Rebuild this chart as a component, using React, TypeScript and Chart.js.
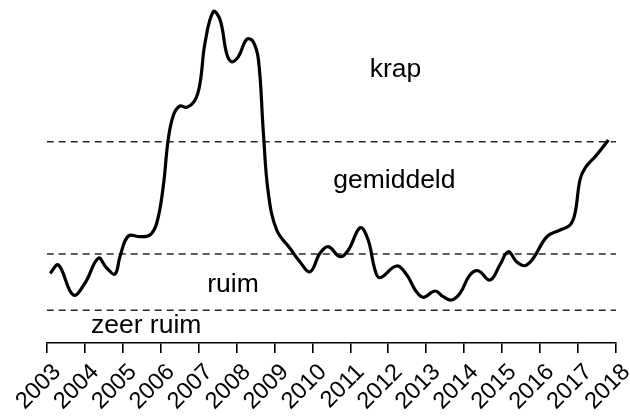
import React, { useEffect, useRef } from "react";
import { Chart, registerables } from "chart.js";

Chart.register(...registerables);

// Time (fractional years) and tightness index (arbitrary units, 0 = axis)
const years = [
  2003.09, 2003.31, 2003.70, 2004.01, 2004.36, 2004.58, 2004.80, 2004.93,
  2005.15, 2005.46, 2005.72, 2005.90, 2006.07, 2006.20, 2006.34, 2006.51,
  2006.69, 2006.91, 2007.04, 2007.17, 2007.39, 2007.57, 2007.74, 2007.87,
  2008.05, 2008.27, 2008.44, 2008.58, 2008.71, 2008.84, 2009.06, 2009.41,
  2009.67, 2009.94, 2010.20, 2010.42, 2010.73, 2010.95, 2011.26, 2011.47,
  2011.65, 2011.78, 2012.22, 2012.49, 2012.71, 2012.92, 2013.23, 2013.45,
  2013.67, 2013.89, 2014.15, 2014.37, 2014.68, 2014.94, 2015.16, 2015.38,
  2015.60, 2015.82, 2016.18, 2016.53, 2016.79, 2016.92, 2017.05, 2017.18,
  2017.49, 2017.80,
];
const index = [
  69.7, 78, 48, 60, 84.7, 75, 69, 86.3,
  107, 106.3, 108, 120, 156.3, 203, 228, 237,
  235.7, 243, 259.7, 299.7, 331.3, 323, 289.7, 281.3,
  286.3, 303.7, 301.3, 283, 209.7, 149.7, 113, 94.7,
  81.3, 71.3, 89.7, 96.3, 86.3, 93, 115.3, 103,
  73, 65.3, 77, 68, 53, 45.7, 52, 46.3,
  43, 49.7, 68, 72.3, 63, 78, 91.3, 81.3,
  77.3, 84.7, 106.3, 113, 118, 129.7, 163, 174.7,
  188, 203,
];

// Tick labels on the time axis
const yearTicks = [
  2003, 2004, 2005, 2006, 2007, 2008, 2009, 2010,
  2011, 2012, 2013, 2014, 2015, 2016, 2017, 2018,
];

// Thresholds between the zones
const thresholds = [201.3, 89, 32.7];

// Zone labels with their anchor (year, index at baseline)
const zoneLabels = ["krap", "gemiddeld", "ruim", "zeer ruim"];
const zoneLabelX = [2012.19, 2012.16, 2007.91, 2005.62];
const zoneLabelY = [266.3, 154.7, 51.3, 9.7];

const X_MIN = 2003;
const X_MAX = 2018;
const Y_MIN = 0;
const Y_MAX = 335;

const FONT = "'Liberation Sans', Arial, Helvetica, sans-serif";

export default function App() {
  const ref = useRef<HTMLCanvasElement | null>(null);

  useEffect(() => {
    if (!ref.current) return;

    const labelPlugin = {
      id: "zoneLabels",
      afterDatasetsDraw(chart: any) {
        const { ctx, scales, chartArea } = chart;
        ctx.save();
        ctx.fillStyle = "#000";
        ctx.font = `26.5px ${FONT}`;
        ctx.textAlign = "center";
        ctx.textBaseline = "alphabetic";
        zoneLabels.forEach((t, i) => {
          ctx.fillText(
            t,
            scales.x.getPixelForValue(zoneLabelX[i]),
            scales.y.getPixelForValue(zoneLabelY[i])
          );
        });
        ctx.restore();

        // rotated year labels (R-style, 45 degrees)
        ctx.save();
        ctx.fillStyle = "#000";
        ctx.font = `23.5px ${FONT}`;
        ctx.textAlign = "right";
        ctx.textBaseline = "alphabetic";
        yearTicks.forEach((yr) => {
          const px = scales.x.getPixelForValue(yr);
          ctx.save();
          ctx.translate(px + 15, chartArea.bottom + 30);
          ctx.rotate(-Math.PI / 4);
          ctx.fillText(String(yr), 0, 0);
          ctx.restore();
        });
        ctx.restore();
      },
    };

    const datasets: any[] = [
      {
        data: years.map((x, i) => ({ x, y: index[i] })),
        borderColor: "#000",
        borderWidth: 3.2,
        pointRadius: 0,
        tension: 0.4,
        fill: false,
        clip: false,
      },
      ...thresholds.map((t) => ({
        data: [
          { x: X_MIN, y: t },
          { x: X_MAX, y: t },
        ],
        borderColor: "#2a2a2a",
        borderWidth: 1.6,
        borderDash: [7, 5],
        pointRadius: 0,
        fill: false,
      })),
    ];

    const chart = new Chart(ref.current, {
      type: "line",
      data: { datasets },
      plugins: [labelPlugin],
      options: {
        animation: false,
        responsive: false,
        maintainAspectRatio: false,
        layout: { padding: { top: 8, left: 46.7, right: 14, bottom: 0 } },
        plugins: { legend: { display: false }, tooltip: { enabled: false } },
        scales: {
          x: {
            type: "linear",
            min: X_MIN,
            max: X_MAX,
            afterFit: (scale: any) => {
              scale.height = 74;
            },
            afterBuildTicks: (scale: any) => {
              scale.ticks = yearTicks.map((v) => ({ value: v }));
            },
            border: { display: true, color: "#000", width: 1.6 },
            grid: {
              display: true,
              drawOnChartArea: false,
              drawTicks: true,
              tickLength: 10,
              color: "#000",
              lineWidth: 1.6,
            },
            ticks: {
              display: false,
              autoSkip: false,
            },
          },
          y: {
            display: false,
            min: Y_MIN,
            max: Y_MAX,
          },
        },
      },
    });

    return () => chart.destroy();
  }, []);

  return (
    <div style={{ position: "absolute", left: 0, top: 0, width: 630, height: 417, background: "#fff" }}>
      <canvas ref={ref} width={630} height={417} style={{ width: 630, height: 417 }} />
    </div>
  );
}
